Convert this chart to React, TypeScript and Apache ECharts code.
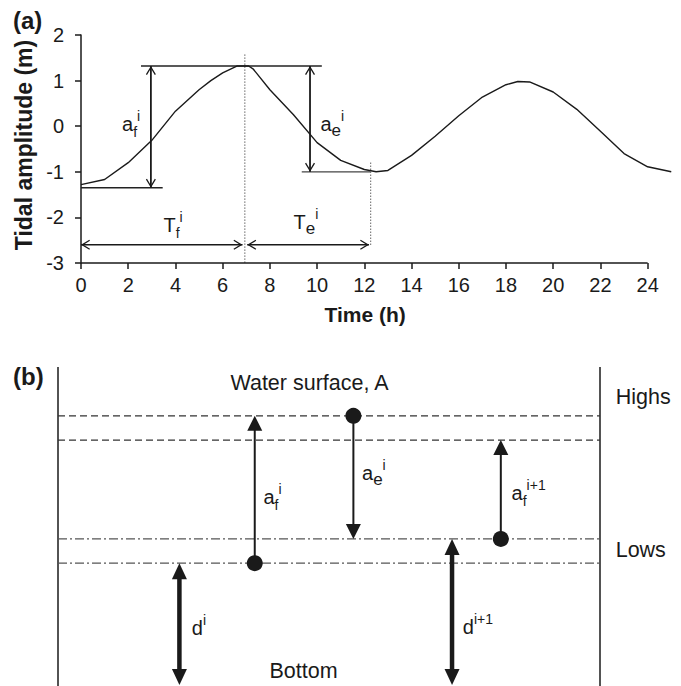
import React, { useEffect, useRef } from "react";
import * as echarts from "echarts";

// ---------- (a) tidal curve ----------
const timeH = [0, 1, 2, 3, 4, 5, 5.5, 6, 6.6, 7.1, 7.3, 8, 9, 10, 11, 12, 12.5, 13, 14, 15, 16, 17, 18, 18.5, 19, 20, 21, 22, 23, 24, 25];
const tideM = [-1.28, -1.17, -0.8, -0.31, 0.33, 0.8, 1.0, 1.17, 1.32, 1.32, 1.25, 0.8, 0.25, -0.36, -0.75, -0.95, -1.0, -0.97, -0.64, -0.22, 0.23, 0.64, 0.91, 0.98, 0.97, 0.75, 0.37, -0.11, -0.6, -0.89, -1.0];
const xTicks = [0, 2, 4, 6, 8, 10, 12, 14, 16, 18, 20, 22, 24];
const yTicks = [-3, -2, -1, 0, 1, 2];

// annotation values for (a)
const highLevelA = 1.32;
const lowLevelF = -1.35;
const lowLevelE = -1.0;
const peakTime = 6.94;
const troughTime = 12.25;
const periodArrowY = -2.6;
const afArrowT = 2.96;
const aeArrowT = 9.7;

// ---------- (b) schematic (relative units: 0 = bottom, 100 = top) ----------
const highI = 84.7;
const highI1 = 77.1;
const lowI1 = 46.1;
const lowI = 38.5;
const afX = 36.3;
const aeX = 54.5;
const af1X = 81.7;
const dX = 22.4;
const d1X = 72.7;

const F = "'Liberation Sans', Arial, Helvetica, sans-serif";
const ink = "#1a1a1a";

const gridBHeight = 319;
const pxPerUnitB = gridBHeight / 100;
const pxPerHour = 23.61;

const chevron = "path://M50,0 L100,86 L89,93 L50,26 L11,93 L0,86 Z";

type Dir = "up" | "down" | "left" | "right";
const head = (pt: number[], dir: Dir, size: number[], symbol: string) => {
  const h = size[1];
  const rot = { up: 0, down: 180, left: 90, right: -90 }[dir];
  const off = { up: [0, h / 2], down: [0, -h / 2], left: [h / 2, 0], right: [-h / 2, 0] }[dir];
  return { value: pt, symbol, symbolSize: size, symbolRotate: rot, symbolOffset: off };
};

const seg = (pts: number[][], style: any, gi: number) => ({
  type: "line",
  xAxisIndex: gi,
  yAxisIndex: gi,
  data: pts,
  symbol: "none",
  clip: false,
  silent: true,
  lineStyle: { opacity: 1, ...style },
  z: 3,
});

const tok = (fontSize: number, lineHeight: number, verticalAlign?: string) => ({
  fontSize,
  fontFamily: F,
  color: ink,
  lineHeight,
  textBorderWidth: 0,
  textBorderColor: "transparent",
  opacity: 1,
  ...(verticalAlign ? { verticalAlign } : {}),
});

const rich = {
  b: tok(20, 30),
  sub: tok(14, 14, "bottom"),
  subE: tok(17, 17, "bottom"),
  sup: tok(14, 14, "top"),
  t: tok(21.5, 24),
};

const labelBase = {
  show: true,
  position: "right",
  distance: 0,
  color: ink,
  opacity: 1,
  textBorderWidth: 0,
  textBorderColor: "transparent",
  rich,
};

export default function App() {
  const ref = useRef<HTMLDivElement>(null);
  useEffect(() => {
    if (!ref.current) return;
    const chart = echarts.init(ref.current, undefined, { renderer: "svg" });

    const curve = timeH.map((t, i) => [t, tideM[i]]);
    const thin = { color: "#222", width: 1.3 };

    // heads (a)
    const chevSize = [10, 9];
    const headsA = [
      head([afArrowT, highLevelA], "up", chevSize, chevron),
      head([afArrowT, lowLevelF], "down", chevSize, chevron),
      head([aeArrowT, highLevelA], "up", chevSize, chevron),
      head([aeArrowT, lowLevelE], "down", chevSize, chevron),
      head([0, periodArrowY], "left", chevSize, chevron),
      head([peakTime - 0.1, periodArrowY], "right", chevSize, chevron),
      head([peakTime + 0.1, periodArrowY], "left", chevSize, chevron),
      head([troughTime - 0.05, periodArrowY], "right", chevSize, chevron),
    ];

    const labelsA = [
      { value: [1.72, 0.05], label: { formatter: "{b|a}{sub|f}{sup|i}" } },
      { value: [10.12, 0.05], label: { formatter: "{b|a}{subE|e}{sup|i}" } },
      { value: [3.47, -2.16], label: { formatter: "{b|T}{sub|f}{sup|i}" } },
      { value: [8.98, -2.1], label: { formatter: "{b|T}{subE|e}{sup|i}" } },
    ];

    // (b) arrows
    const triThin = [15, 15];
    const triThick = [15, 16];
    const cutThin = (triThin[1] * 0.6) / pxPerUnitB;
    const cutThick = (triThick[1] * 0.6) / pxPerUnitB;
    const dBottom = 0.3;
    const thinArrow = { color: ink, width: 2 };
    const thickArrow = { color: ink, width: 4.5 };

    const headsB = [
      head([afX, highI], "up", triThin, "triangle"),
      head([aeX, lowI1], "down", triThin, "triangle"),
      head([af1X, highI1], "up", triThin, "triangle"),
      head([dX, lowI], "up", triThick, "triangle"),
      head([dX, dBottom], "down", triThick, "triangle"),
      head([d1X, lowI1], "up", triThick, "triangle"),
      head([d1X, dBottom], "down", triThick, "triangle"),
    ];

    const circlesB = [
      [afX, lowI],
      [aeX, highI],
      [af1X, lowI1],
    ];

    const labelsB = [
      { value: [37.8, 59.3], label: { formatter: "{b|a}{sub|f}{sup|i}" } },
      { value: [56.0, 66.8], label: { formatter: "{b|a}{subE|e}{sup|i}" } },
      { value: [83.6, 60.5], label: { formatter: "{b|a}{sub|f}{sup|i+1}" } },
      { value: [24.6, 18.2], label: { formatter: "{b|d}{sup|i}" } },
      { value: [74.6, 18.6], label: { formatter: "{b|d}{sup|i+1}" } },
      { value: [102.8, 90.7], label: { formatter: "{t|Highs}" } },
      { value: [102.8, 42.6], label: { formatter: "{t|Lows}" } },
      { value: [46.4, 95], label: { formatter: "{t|Water surface, A}", position: "inside" } },
      { value: [45.3, 4.8], label: { formatter: "{t|Bottom}", position: "inside" } },
    ];

    const axisFont = { fontSize: 20, color: ink, fontFamily: F };
    const solidItem = { color: ink, opacity: 1 };

    chart.setOption({
      animation: false,
      backgroundColor: "#ffffff",
      title: [
        { text: "(a)", left: 13, top: 8, padding: 0, textStyle: { fontSize: 24, fontWeight: "bold", color: ink, fontFamily: F } },
        { text: "(b)", left: 13, top: 364, padding: 0, textStyle: { fontSize: 24, fontWeight: "bold", color: ink, fontFamily: F } },
      ],
      grid: [
        { left: 81, top: 35, width: 25 * pxPerHour, height: 228, containLabel: false, outerBoundsMode: "none" },
        { left: 58, top: 367, width: 542, height: gridBHeight, containLabel: false, outerBoundsMode: "none" },
      ],
      xAxis: [
        {
          type: "value",
          gridIndex: 0,
          min: 0,
          max: 25,
          interval: 2,
          axisLine: { show: false, onZero: false },
          axisTick: { show: true, length: 6, customValues: xTicks, lineStyle: { color: ink, width: 1.5 } },
          axisLabel: { ...axisFont, margin: 12, customValues: xTicks },
          splitLine: { show: false },
          name: "Time (h)",
          nameLocation: "middle",
          nameGap: 41,
          nameTextStyle: { fontSize: 21, fontWeight: "bold", color: ink, fontFamily: F, padding: [0, 22, 0, 0] },
        },
        { type: "value", gridIndex: 1, min: 0, max: 100, show: false },
      ],
      yAxis: [
        {
          type: "value",
          gridIndex: 0,
          min: -3,
          max: 2,
          interval: 1,
          axisLine: { show: true, onZero: false, lineStyle: { color: ink, width: 1.5 } },
          axisTick: { show: true, length: 6, customValues: yTicks, lineStyle: { color: ink, width: 1.5 } },
          axisLabel: { ...axisFont, margin: 17, customValues: yTicks },
          splitLine: { show: false },
          name: "Tidal amplitude (m)",
          nameLocation: "middle",
          nameRotate: 90,
          nameGap: 38,
          nameTextStyle: { fontSize: 23, fontWeight: "bold", color: ink, fontFamily: F, padding: [0, 0, 0, 8] },
        },
        { type: "value", gridIndex: 1, min: 0, max: 100, show: false },
      ],
      series: [
        // ---- (a) ----
        seg([[0, -3], [24, -3]], { color: ink, width: 1.5 }, 0),
        {
          type: "line",
          xAxisIndex: 0,
          yAxisIndex: 0,
          data: curve,
          symbol: "none",
          clip: false,
          silent: true,
          lineStyle: { color: ink, width: 1.4, opacity: 1 },
          z: 4,
        },
        seg([[2.54, highLevelA], [10.2, highLevelA]], thin, 0),
        seg([[0, lowLevelF], [3.46, lowLevelF]], thin, 0),
        seg([[9.35, lowLevelE], [troughTime, lowLevelE]], { color: "#444", width: 1.3 }, 0),
        seg([[peakTime, 1.57], [peakTime, -3]], { color: ink, width: 1, type: [1, 2] }, 0),
        seg([[12.27, -0.8], [12.27, -2.63]], { color: ink, width: 1, type: [1, 2] }, 0),
        seg([[afArrowT, lowLevelF], [afArrowT, highLevelA]], { color: ink, width: 1.8 }, 0),
        seg([[aeArrowT, lowLevelE], [aeArrowT, highLevelA]], { color: ink, width: 1.8 }, 0),
        seg([[0, periodArrowY], [peakTime - 0.1, periodArrowY]], { color: ink, width: 1.5 }, 0),
        seg([[peakTime + 0.1, periodArrowY], [troughTime - 0.05, periodArrowY]], { color: ink, width: 1.5 }, 0),
        {
          type: "scatter",
          xAxisIndex: 0,
          yAxisIndex: 0,
          data: headsA,
          itemStyle: solidItem,
          clip: false,
          silent: true,
          z: 6,
        },
        {
          type: "scatter",
          xAxisIndex: 0,
          yAxisIndex: 0,
          data: labelsA,
          symbolSize: 1,
          itemStyle: { color: "rgba(0,0,0,0)", opacity: 1 },
          label: labelBase,
          clip: false,
          silent: true,
          z: 7,
        },
        // ---- (b) ----
        seg([[0, 0], [0, 100]], { color: ink, width: 1.5 }, 1),
        seg([[100, 0], [100, 100]], { color: ink, width: 1.5 }, 1),
        seg([[0, highI], [100, highI]], { color: "#333", width: 1.2, type: [7, 4] }, 1),
        seg([[0, highI1], [100, highI1]], { color: "#333", width: 1.2, type: [7, 4] }, 1),
        seg([[0, lowI1], [100, lowI1]], { color: "#555", width: 1.2, type: [9, 3, 2, 3] }, 1),
        seg([[0, lowI], [100, lowI]], { color: "#555", width: 1.2, type: [9, 3, 2, 3] }, 1),
        seg([[afX, lowI], [afX, highI - cutThin]], thinArrow, 1),
        seg([[aeX, highI], [aeX, lowI1 + cutThin]], thinArrow, 1),
        seg([[af1X, lowI1], [af1X, highI1 - cutThin]], thinArrow, 1),
        seg([[dX, dBottom + cutThick], [dX, lowI - cutThick]], thickArrow, 1),
        seg([[d1X, dBottom + cutThick], [d1X, lowI1 - cutThick]], thickArrow, 1),
        {
          type: "scatter",
          xAxisIndex: 1,
          yAxisIndex: 1,
          data: headsB,
          itemStyle: solidItem,
          clip: false,
          silent: true,
          z: 6,
        },
        {
          type: "scatter",
          xAxisIndex: 1,
          yAxisIndex: 1,
          data: circlesB,
          symbol: "circle",
          symbolSize: 16,
          itemStyle: solidItem,
          clip: false,
          silent: true,
          z: 6,
        },
        {
          type: "scatter",
          xAxisIndex: 1,
          yAxisIndex: 1,
          data: labelsB,
          symbolSize: 1,
          itemStyle: { color: "rgba(0,0,0,0)", opacity: 1 },
          label: labelBase,
          clip: false,
          silent: true,
          z: 7,
        },
      ],
    });

    return () => chart.dispose();
  }, []);

  return (
    <div
      ref={ref}
      style={{ position: "fixed", left: 0, top: 0, width: 681, height: 686, background: "#fff" }}
    />
  );
}
